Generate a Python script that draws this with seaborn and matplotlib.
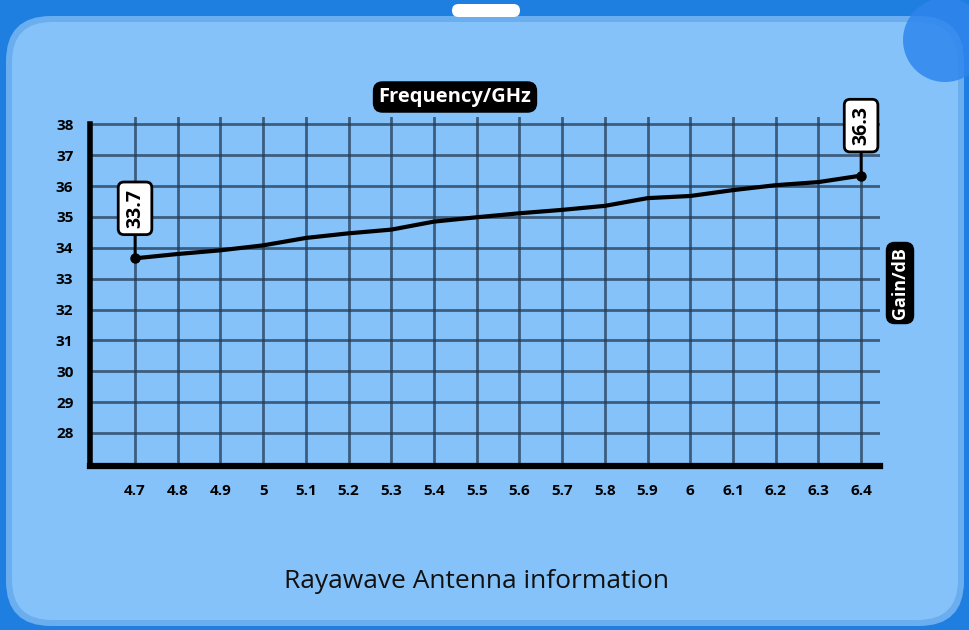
import seaborn as sns
import matplotlib.pyplot as plt
import pandas as pd
from matplotlib.patches import FancyBboxPatch, Circle

# frequency (GHz) and gain (dB)
freq = [4.7, 4.8, 4.9, 5.0, 5.1, 5.2, 5.3, 5.4, 5.5, 5.6,
        5.7, 5.8, 5.9, 6.0, 6.1, 6.2, 6.3, 6.4]
gain = [33.66, 33.80, 33.92, 34.08, 34.32, 34.47, 34.59, 34.85, 34.99, 35.12,
        35.23, 35.36, 35.61, 35.68, 35.87, 36.03, 36.13, 36.34]
x_ticks = freq
y_ticks = [28, 29, 30, 31, 32, 33, 34, 35, 36, 37, 38]
first_label = '33.7'
last_label = '36.3'

df = pd.DataFrame({'freq': freq, 'gain': gain})

sns.set_style('white')
plt.rcParams['font.family'] = ['Open Sans', 'DejaVu Sans']

fig = plt.figure(figsize=(9.7, 6.3), dpi=100)
fig.patch.set_facecolor('#1f7fe0')

# rounded panel behind the chart
tr = fig.dpi_scale_trans
deco = [
    FancyBboxPatch((0.06, 0.04), 9.58, 6.1, boxstyle='round,pad=0,rounding_size=0.45',
                   fc='#6aaeef', ec='none'),
    FancyBboxPatch((0.12, 0.1), 9.46, 5.98, boxstyle='round,pad=0,rounding_size=0.4',
                   fc='#84c2f9', ec='none'),
    FancyBboxPatch((4.52, 6.13), 0.68, 0.13, boxstyle='round,pad=0,rounding_size=0.065',
                   fc='white', ec='none'),
    Circle((9.45, 5.9), 0.42, fc='#2f86ee', ec='none', alpha=0.85),
]
for p in deco:
    p.set_transform(tr)
    p.set_zorder(-10)
    p.set_figure(fig)
    fig.patches.append(p)

ax = fig.add_axes([0.0928, 0.2603, 0.8145, 0.5545])
ax.set_zorder(1)
ax.patch.set_alpha(0)

sns.lineplot(data=df, x='freq', y='gain', ax=ax, color='black', linewidth=3,
             solid_joinstyle='round', solid_capstyle='round')
ax.plot([freq[0], freq[-1]], [gain[0], gain[-1]], 'o', color='black', markersize=6.5)

ax.set_xlim(4.5946, 6.4445)
ax.set_ylim(26.93, 38.25)
ax.set_xticks(x_ticks)
ax.set_xticklabels([f'{v:g}' for v in x_ticks])
ax.set_yticks(y_ticks)
ax.tick_params(length=0, labelsize=11, labelcolor='black')
ax.tick_params(axis='x', pad=13)
ax.tick_params(axis='y', pad=12)
for lab in ax.get_xticklabels() + ax.get_yticklabels():
    lab.set_fontweight('bold')
ax.set_xlabel('')
ax.set_ylabel('')

ax.grid(True, color='#243c55', alpha=0.75, linewidth=2)
ax.set_axisbelow(True)
for s in ['top', 'right']:
    ax.spines[s].set_visible(False)
ax.spines['left'].set_linewidth(4)
ax.spines['bottom'].set_linewidth(4.5)
ax.spines['left'].set_color('black')
ax.spines['bottom'].set_color('black')
ax.spines['left'].set_bounds(26.93, 38.0)

box = dict(boxstyle='round,pad=0.35,rounding_size=0.3', fc='white', ec='black', lw=2)
for x, y, t in [(freq[0], gain[0], first_label), (freq[-1], gain[-1], last_label)]:
    ax.annotate(t, xy=(x, y), xytext=(0, 36), textcoords='offset points', rotation=90,
                ha='center', va='center', fontsize=14, fontweight='bold', color='black', bbox=box,
                arrowprops=dict(arrowstyle='-', color='black', lw=2, shrinkA=0, shrinkB=0))

lab_box = dict(boxstyle='round,pad=0.25,rounding_size=0.45', fc='black', ec='black')
fig.text(455 / 970, 1 - 97 / 630, 'Frequency/GHz', color='white', fontsize=14.5, fontweight='bold',
         ha='center', va='center', bbox=lab_box)
fig.text(900 / 970, 1 - 283 / 630, 'Gain/dB', color='white', fontsize=13, fontweight='bold',
         ha='center', va='center', rotation=90, bbox=lab_box)
fig.text(477 / 970, 1 - 582 / 630, 'Rayawave Antenna information', color='#111111', fontsize=19,
         ha='center', va='center')

fig.savefig('out.png', dpi=100, facecolor=fig.get_facecolor())
